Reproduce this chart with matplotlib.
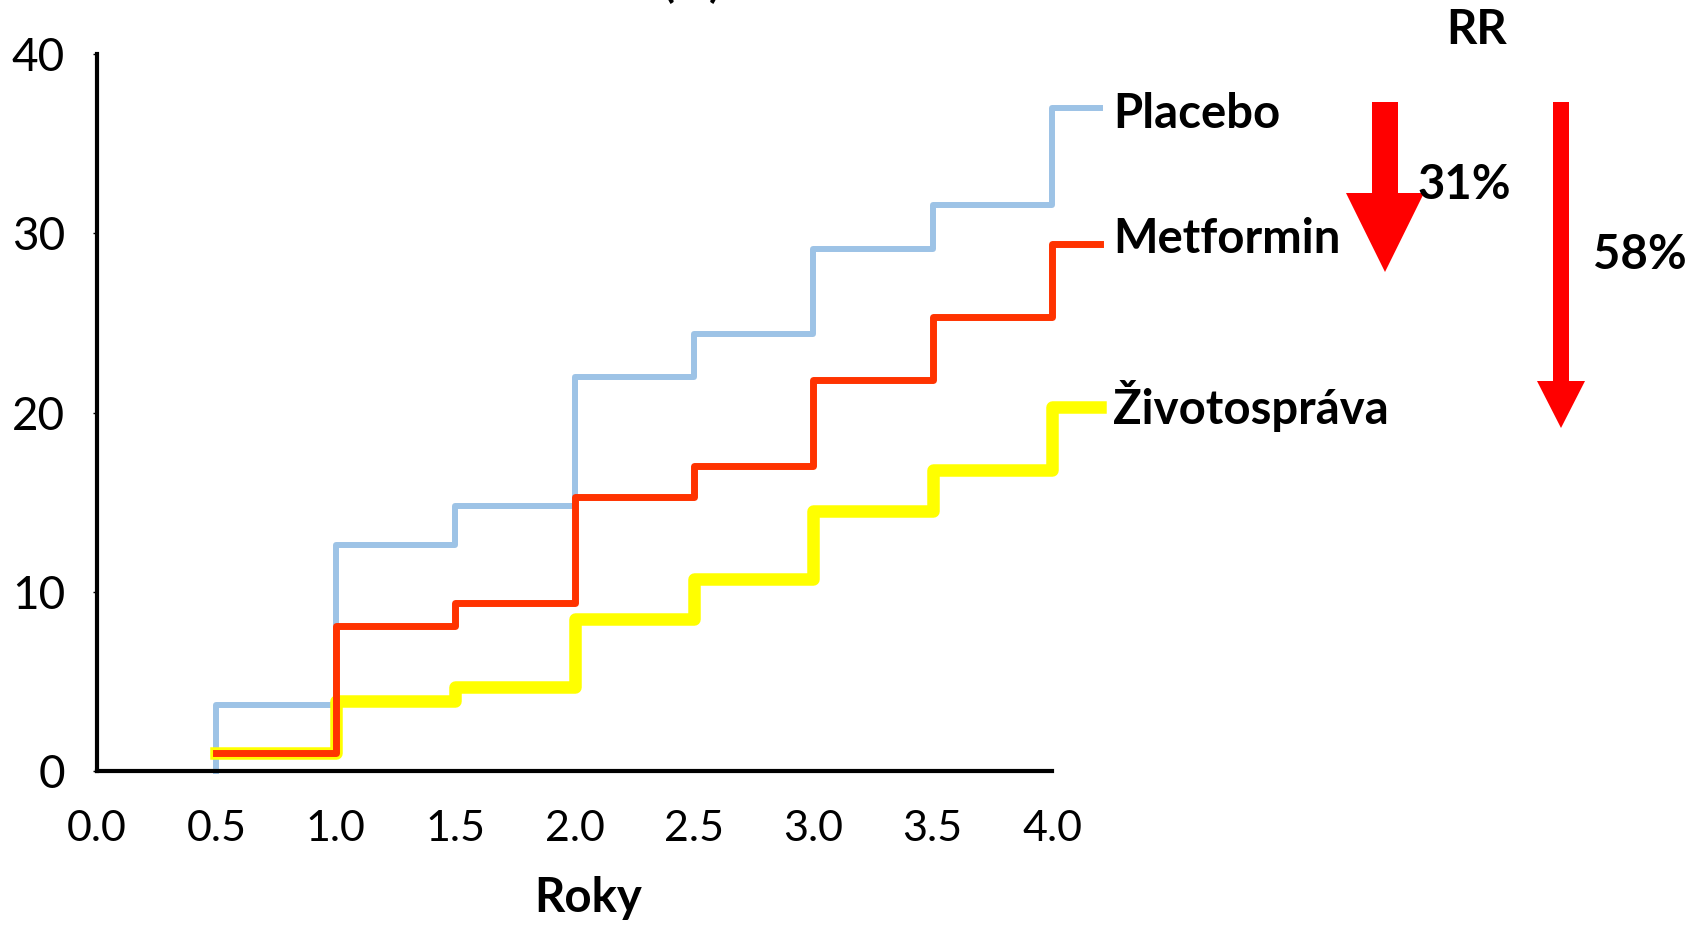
import matplotlib.pyplot as plt
from matplotlib.patches import Polygon

# data
years = [0.5, 1.0, 1.5, 2.0, 2.5, 3.0, 3.5, 4.0]
placebo = [3.7, 12.6, 14.8, 22.0, 24.4, 29.1, 31.6, 37.0]
metformin = [1.0, 8.1, 9.4, 15.3, 17.0, 21.8, 25.3, 29.4]
zivotosprava = [1.0, 3.9, 4.7, 8.5, 10.7, 14.5, 16.8, 20.3]
end_year = 4.2
x_ticks = [0.0, 0.5, 1.0, 1.5, 2.0, 2.5, 3.0, 3.5, 4.0]
y_ticks = [0, 10, 20, 30, 40]

plt.rcParams['font.family'] = ['Lato', 'DejaVu Sans']

W, H = 1703, 925
fig = plt.figure(figsize=(W / 100, H / 100), dpi=100)
ax = fig.add_axes([97 / W, 1 - 771 / H, (1052 - 97) / W, (771 - 54) / H])

def steps(vals, start_zero=False):
    xs = [years[0]] + years + [end_year]
    ys = [0 if start_zero else vals[0]] + vals + [vals[-1]]
    return xs, ys

# placebo starts at zero, goes up at 0.5
xs, ys = steps(placebo, start_zero=True)
ax.plot(xs, ys, drawstyle='steps-post', color='#9dc3e6', lw=4.3, clip_on=False, zorder=2)
xs, ys = steps(zivotosprava)
ax.plot(xs, ys, drawstyle='steps-post', color='#ffff00', lw=9, clip_on=False, zorder=3)
xs, ys = steps(metformin)
ax.plot(xs, ys, drawstyle='steps-post', color='#ff3300', lw=5, clip_on=False, zorder=4)

ax.set_xlim(0, 4.0)
ax.set_ylim(0, 40)
ax.set_xticks(x_ticks)
ax.set_xticklabels([f'{v:.1f}' for v in x_ticks])
ax.set_yticks(y_ticks)
ax.tick_params(axis='x', length=0, pad=28, labelsize=31)
ax.tick_params(axis='y', length=3, width=1, pad=20, labelsize=33)
for s in ['top', 'right']:
    ax.spines[s].set_visible(False)
for s in ['left', 'bottom']:
    ax.spines[s].set_linewidth(3)
ax.set_xlabel('Roky', fontsize=34, fontweight='bold', labelpad=20, x=0.514)

# series labels
lab_x = 1113 / W
fig.text(lab_x, 1 - 114 / H, 'Placebo', fontsize=34, fontweight='bold', va='center')
fig.text(lab_x, 1 - 239 / H, 'Metformin', fontsize=34, fontweight='bold', va='center')
fig.text(lab_x, 1 - 406 / H, 'Životospráva', fontsize=34, fontweight='bold', va='center')

# cut off title at the top
fig.text(692 / W, 1 + 3 / H, '(%)', fontsize=31, fontweight='bold', ha='center', va='baseline')

# RR arrows
def arrow(cx, shaft_w, top, base, head_w, tip):
    pts = [(cx - shaft_w / 2, top), (cx + shaft_w / 2, top), (cx + shaft_w / 2, base),
           (cx + head_w / 2, base), (cx, tip), (cx - head_w / 2, base), (cx - shaft_w / 2, base)]
    pts = [(px / W, 1 - py / H) for px, py in pts]
    fig.patches.append(Polygon(pts, closed=True, transform=fig.transFigure,
                               facecolor='#ff0000', edgecolor='none'))

arrow(1385, 26, 102, 193, 78, 272)
arrow(1561, 16, 102, 381, 48, 428)

fig.text(1477 / W, 1 - 30 / H, 'RR', fontsize=34, fontweight='bold', ha='center', va='center')
fig.text(1464 / W, 1 - 185 / H, '31%', fontsize=34, fontweight='bold', ha='center', va='center')
fig.text(1640 / W, 1 - 255 / H, '58%', fontsize=34, fontweight='bold', ha='center', va='center')

fig.savefig('out.png', dpi=100)
